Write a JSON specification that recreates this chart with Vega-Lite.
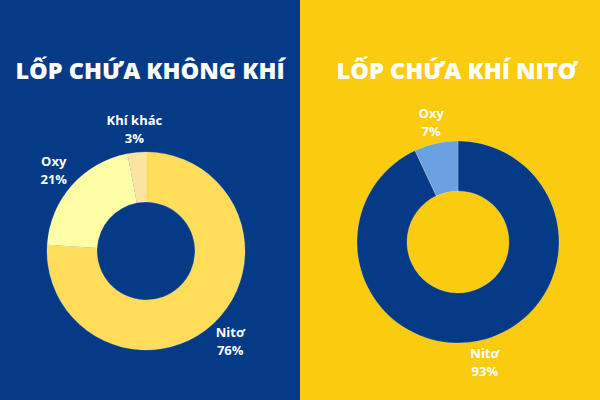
{
  "$schema": "https://vega.github.io/schema/vega-lite/v6.json",
  "padding": 0,
  "spacing": 0,
  "config": {"view": {"stroke": null}, "font": "Open Sans"},
  "resolve": {"scale": {"color": "independent", "theta": "independent"}},
  "hconcat": [
    {
      "width": 300,
      "height": 400,
      "view": {"fill": "#053b86", "stroke": null},
      "title": {"text": "LỐP CHỨA KHÔNG KHÍ", "orient": "top", "anchor": "middle", "frame": "group", "baseline": "alphabetic", "offset": -102, "fontSize": 23.5, "fontWeight": 800, "font": "Open Sans", "color": "#ffffff"},
      "data": {"values": [
        {"name": "Nitơ", "value": 76, "pct": "76%", "order": 1},
        {"name": "Oxy", "value": 21, "pct": "21%", "order": 2},
        {"name": "Khí khác", "value": 3, "pct": "3%", "order": 3}
      ]},
      "encoding": {
        "theta": {"field": "value", "type": "quantitative", "stack": true},
        "order": {"field": "order", "type": "quantitative"}
      },
      "layer": [
        {
          "mark": {"type": "arc", "innerRadius": 49, "outerRadius": 99, "xOffset": -4, "yOffset": 51, "stroke": "#ffffff", "strokeWidth": 0.5, "strokeOpacity": 0.4},
          "encoding": {
            "color": {"field": "name", "type": "nominal", "legend": null,
              "scale": {"domain": ["Nitơ", "Oxy", "Khí khác"], "range": ["#ffdc5a", "#fdfda6", "#fde3a1"]}}
          }
        },
        {
          "mark": {"type": "text", "radius": 123, "xOffset": -4, "yOffset": 51, "dy": -8, "fontSize": 13, "fontWeight": "bold", "color": "#ffffff"},
          "encoding": {"text": {"field": "name"}}
        },
        {
          "mark": {"type": "text", "radius": 123, "xOffset": -4, "yOffset": 51, "dy": 10, "fontSize": 13, "fontWeight": "bold", "color": "#ffffff"},
          "encoding": {"text": {"field": "pct"}}
        }
      ]
    },
    {
      "width": 300,
      "height": 400,
      "view": {"fill": "#facb0f", "stroke": null},
      "title": {"text": "LỐP CHỨA KHÍ NITƠ", "orient": "top", "anchor": "middle", "frame": "group", "baseline": "alphabetic", "offset": -102, "dx": 7, "fontSize": 23.5, "fontWeight": 800, "font": "Open Sans", "color": "#ffffff"},
      "data": {"values": [
        {"name": "Nitơ", "value": 93, "pct": "93%", "order": 1},
        {"name": "Oxy", "value": 7, "pct": "7%", "order": 2}
      ]},
      "encoding": {
        "theta": {"field": "value", "type": "quantitative", "stack": true},
        "order": {"field": "order", "type": "quantitative"}
      },
      "layer": [
        {
          "mark": {"type": "arc", "innerRadius": 51, "outerRadius": 101, "xOffset": 8, "yOffset": 42, "stroke": "#ffffff", "strokeWidth": 0.5, "strokeOpacity": 0.4},
          "encoding": {
            "color": {"field": "name", "type": "nominal", "legend": null,
              "scale": {"domain": ["Nitơ", "Oxy"], "range": ["#053b86", "#6aa1e3"]}}
          }
        },
        {
          "mark": {"type": "text", "radius": 123, "xOffset": 8, "yOffset": 42, "dy": -8, "fontSize": 13, "fontWeight": "bold", "color": "#ffffff"},
          "encoding": {"text": {"field": "name"}}
        },
        {
          "mark": {"type": "text", "radius": 123, "xOffset": 8, "yOffset": 42, "dy": 10, "fontSize": 13, "fontWeight": "bold", "color": "#ffffff"},
          "encoding": {"text": {"field": "pct"}}
        }
      ]
    }
  ]
}
